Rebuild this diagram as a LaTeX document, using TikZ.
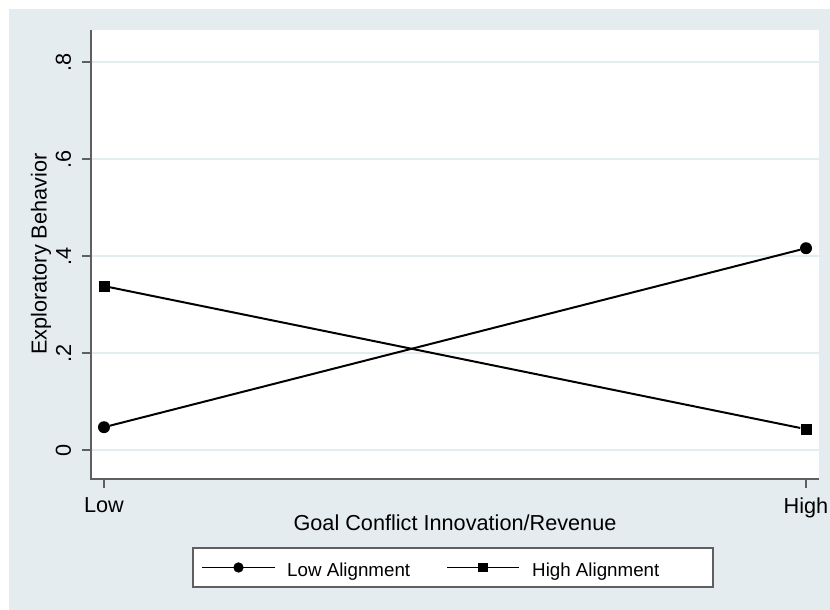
\documentclass[tikz,border=0pt]{standalone}
\usepackage{fontspec}
\setmainfont{Liberation Sans}
\usetikzlibrary{positioning,calc}
\definecolor{bgblue}{RGB}{229,236,239}
\definecolor{gridblue}{RGB}{228,236,240}
\definecolor{axisgray}{RGB}{95,95,95}
\tikzset{
    lbl/.style={font=\fontsize{18.5}{22}\selectfont, text=black, inner sep=0pt},
    leglbl/.style={font=\fontsize{16}{19}\selectfont, text=black, inner sep=0pt},
    circmark/.style={circle, fill=black, inner sep=0pt, minimum size=#1},
    circmark/.default=0.36cm,
    sqmark/.style={rectangle, fill=black, inner sep=0pt, minimum size=#1},
    sqmark/.default=0.33cm,
    dataline/.style={line width=1.7pt, black},
    axisline/.style={line width=1.6pt, axisgray},
}

\begin{document}
\begin{tikzpicture}
    \useasboundingbox (0,0) rectangle (24.9,18.3);
    \fill[bgblue] (0.27,0) rectangle (24.9,18.03);

    % Plot region, in data units (Low = 0, High = 1)
    \begin{scope}[shift={(3.12,4.8)}, x=21.06cm, y=14.55cm]
        \fill[white] (-0.0185,-0.0598) rectangle (1.0185,0.866);

        % Grid lines, ticks and tick labels
        \foreach \v/\t [count=\i] in {0/0, 0.2/.2, 0.4/.4, 0.6/.6, 0.8/.8} {
            \draw[gridblue, line width=1.2pt] (-0.0185,\v) -- (1.0185,\v);
            \draw[axisline] (-0.0185,\v) -- ++(-0.27cm,0) ++(-0.3cm,0)
                node[lbl, rotate=90, anchor=south] (ylab\i) {\t};
        }
        \draw[axisline] (-0.0185,0.866) -- (-0.0185,-0.0598) -- (1.0185,-0.0598);

        \draw[axisline] (0,-0.0598) -- ++(0,-0.27cm) ++(0,-0.27cm)
            node[lbl, anchor=north] (xlow) {Low};
        \draw[axisline] (1,-0.0598) -- ++(0,-0.27cm) ++(0,-0.27cm)
            node[lbl, anchor=north] (xhigh) {High};

        % Axis titles
        \node[lbl, anchor=north] (xtitle) at (0.5,-0.134) {Goal Conflict Innovation/Revenue};
        \node[lbl, rotate=90] (ytitle) at (-0.0897,0.404) {Exploratory Behavior};

        % Low alignment
        \node[circmark] (lowL) at (0,0.047) {};
        \node[circmark] (lowH) at (1,0.416) {};
        \draw[dataline] (lowL) -- (lowH);

        % High alignment
        \node[sqmark] (highL) at (0,0.338) {};
        \node[sqmark] (highH) at (1,0.043) {};
        \draw[dataline] (highL) -- (highH);
    \end{scope}

    % Legend
    \node[draw=axisgray, line width=1pt, fill=white, minimum width=15.6cm,
        minimum height=1.17cm] (legend) at (13.59,1.275) {};
    \coordinate (leg1a) at (6.06,1.275);
    \coordinate (leg1b) at (8.25,1.275);
    \node[circmark=0.31cm] (leg1m) at ($(leg1a)!0.5!(leg1b)$) {};
    \draw[dataline] (leg1a) -- (leg1b);
    \node[leglbl, anchor=base west] (leg1t) at (8.61,0.99) {Low Alignment};

    \coordinate (leg2a) at (13.41,1.275);
    \coordinate (leg2b) at (15.57,1.275);
    \node[sqmark=0.29cm] (leg2m) at ($(leg2a)!0.5!(leg2b)$) {};
    \draw[dataline] (leg2a) -- (leg2b);
    \node[leglbl, anchor=base west] (leg2t) at (15.96,0.99) {High Alignment};
\end{tikzpicture}
\end{document}
